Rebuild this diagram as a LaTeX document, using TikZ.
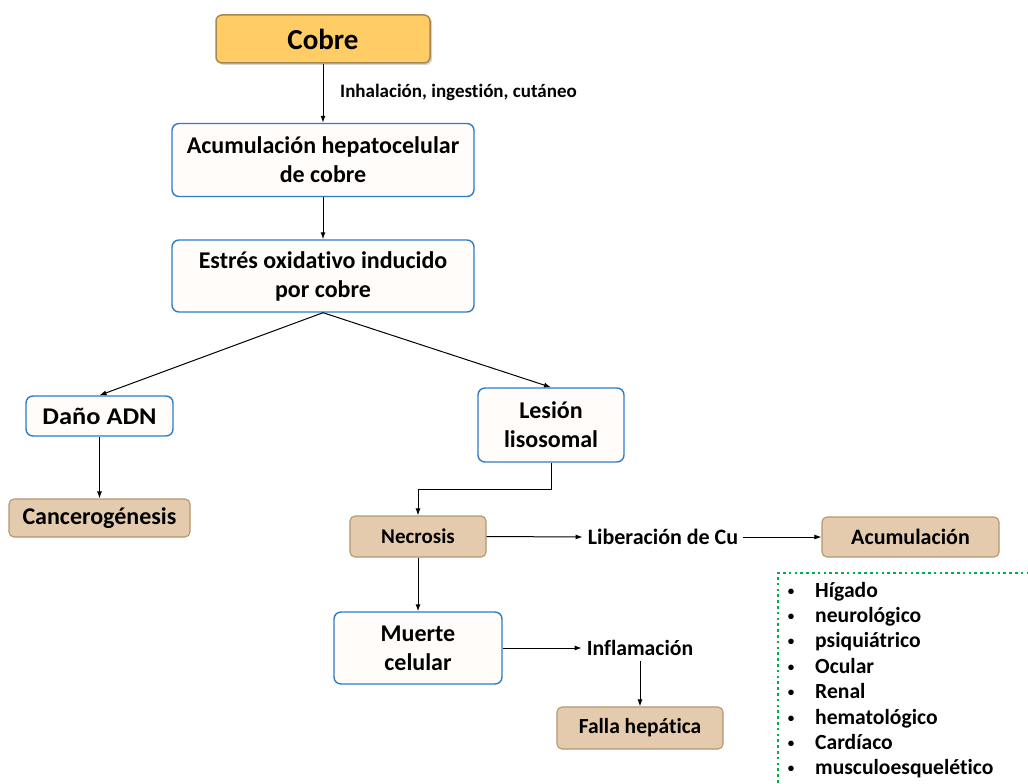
\documentclass[tikz,border=0pt]{standalone}
\usepackage{fontspec}
\setmainfont{Carlito}[Ligatures=NoCommon]
\usetikzlibrary{arrows.meta,shadows,calc}
\definecolor{bluebd}{HTML}{2E7BC9}
\definecolor{boxfill}{HTML}{FFFCFA}
\definecolor{gold}{HTML}{FFCC66}
\definecolor{goldbd}{HTML}{A8884E}
\definecolor{tanfill}{HTML}{E5CBAD}
\definecolor{tanbd}{HTML}{B5966E}
\definecolor{dotgreen}{HTML}{00B050}
\newcommand{\fs}[1]{\bfseries\fontsize{#1}{29}\selectfont}
\tikzset{
  bluebox/.style={draw=bluebd, fill=boxfill, line width=1.4pt, rounded corners=7pt, align=center, inner sep=0pt,
    font=\fs{24}},
  tanbox/.style={draw=tanbd, fill=tanfill, line width=1.1pt, rounded corners=5pt, align=center, inner sep=0pt},
  lbl/.style={inner sep=5pt, font=\fs{22}},
  arr/.style={line width=1pt, -{Latex[length=7pt,width=5pt]}},
  item/.style={anchor=base west, inner sep=0pt, font=\fs{21.6}},
  bul/.style={anchor=base, inner sep=0pt, font=\fs{13}},
}
\begin{document}
\begin{tikzpicture}[x=1pt,y=-1pt]
\useasboundingbox (0,0) rectangle (1028,784);
\clip (0,0) rectangle (1028,784);
% nodes
\node[draw=goldbd, fill=gold, line width=1.5pt, rounded corners=6pt, minimum width=214pt, minimum height=48pt,
  font=\fs{29}, drop shadow={opacity=0.35,shadow xshift=2pt,shadow yshift=-2pt}]
  (cobre) at (323,39) {Cobre};
\node[bluebox, minimum width=302pt, minimum height=73pt] (acum) at (323,160) {Acumulación hepatocelular\\de cobre};
\node[bluebox, minimum width=302pt, minimum height=72pt] (estres) at (323,276) {Estrés oxidativo inducido\\por cobre};
\node[bluebox, minimum width=147pt, minimum height=40pt, font=\fs{24}] (dano) at (99.5,416) {\scalebox{1.1}[1]{Daño ADN}};
\node[bluebox, minimum width=146pt, minimum height=74pt] (lesion) at (551,425) {Lesión\\lisosomal};
\node[tanbox, minimum width=181pt, minimum height=38pt, font=\fs{24}] (cancer) at (99.5,518) {Cancerogénesis};
\node[tanbox, minimum width=136pt, minimum height=41pt, font=\fs{21}] (necro) at (418,536.5) {Necrosis};
\node[lbl] (lib) at (663,537) {Liberación de Cu};
\node[tanbox, minimum width=177pt, minimum height=40pt, font=\fs{22}] (acumul) at (910.5,537) {Acumulación};
\node[bluebox, minimum width=168pt, minimum height=72pt] (muerte) at (418,648) {Muerte\\celular};
\node[lbl, font=\fs{21.7}] (infl) at (640,648) {Inflamación};
\node[tanbox, minimum width=166pt, minimum height=42pt, font=\fs{21.5}] (falla) at (640,728) {Falla hepática};
\node[anchor=west, inner sep=0pt, font=\fs{19}] (via) at (340,92) {Inhalación, ingestión, cutáneo};
% dotted box
\draw[dotgreen, line width=2.6pt, dash pattern=on 2.6pt off 3.2pt] (778,800) -- (778,573) -- (1040,573);
\foreach \t [count=\i from 0] in {Hígado,neurológico,psiquiátrico,Ocular,Renal,hematológico,Cardíaco,musculoesquelético}{
  \node[item] (it\i) at (815,{597+25.4*\i}) {\t};
  \node[bul] (bu\i) at (791,{595+25.4*\i}) {•};
}
% connectors
\draw[arr] (cobre.south) -- (acum.north);
\draw[arr] (acum.south) -- (estres.north);
\draw[arr] (estres.south) -- (dano.north);
\draw[arr] (estres.south) -- (lesion.north);
\draw[arr] (dano.south) -- (cancer.north);
\draw[arr] (lesion.south) -- ++(0,27) -| (necro.north);
\draw[arr] (necro.east) -- (lib.west);
\draw[arr] (lib.east) -- (acumul.west);
\draw[arr] (necro.south) -- (muerte.north);
\draw[arr] (muerte.east) -- (infl.west);
\draw[arr] (infl.south) -- (falla.north);
\end{tikzpicture}
\end{document}
